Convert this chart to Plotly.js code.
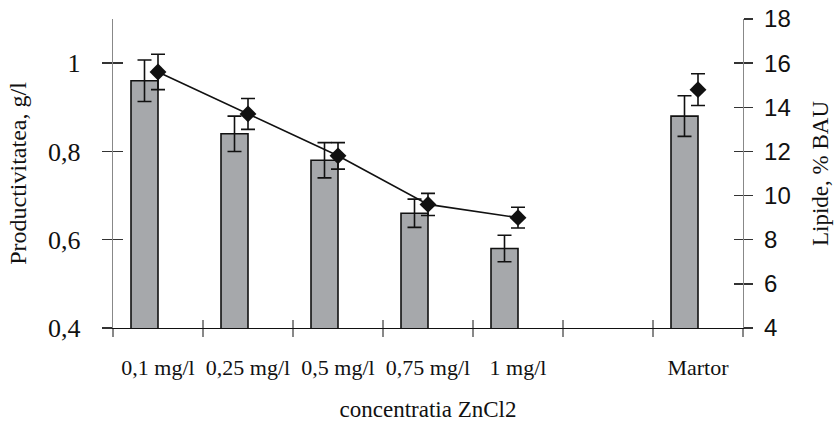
<!DOCTYPE html>
<html>
<head>
<meta charset="utf-8">
<script src="https://cdn.plot.ly/plotly-3.0.1.min.js"></script>
<style>html,body{margin:0;padding:0;background:#fff;}#chart{width:835px;height:424px;}</style>
</head>
<body>
<div id="chart"></div>
<script>
var categories = ['0,1 mg/l', '0,25 mg/l', '0,5 mg/l', '0,75 mg/l', '1 mg/l', ' ', 'Martor'];
var productivitate = [0.96, 0.84, 0.78, 0.66, 0.58, null, 0.88];
var productivitateErr = [0.047, 0.04, 0.04, 0.032, 0.03, null, 0.046];
var lipide = [15.6, 13.7, 11.8, 9.6, 9.0, null, 14.8];
var lipideErr = [0.8, 0.7, 0.6, 0.5, 0.47, null, 0.72];
var leftTicks = [0.4, 0.6, 0.8, 1];
var rightTicks = [4, 6, 8, 10, 12, 14, 16, 18];

var serif = 'Liberation Serif, Times New Roman, serif';
var sans = 'Liberation Sans, Arial, sans-serif';

var traces = [
  {
    type: 'bar', x: categories, y: productivitate, xaxis: 'x', yaxis: 'y',
    width: 0.3, offset: -0.3,
    marker: {color: '#a6a8ab', line: {color: '#111', width: 1.6}},
    error_y: {type: 'data', array: productivitateErr, visible: true, color: '#111', thickness: 1.6, width: 7},
    hoverinfo: 'skip'
  },
  {
    type: 'scatter', mode: 'lines+markers', x: categories, y: lipide, xaxis: 'x', yaxis: 'y2',
    connectgaps: false,
    line: {color: '#111', width: 1.6},
    marker: {symbol: 'diamond', size: 13, color: '#111'},
    error_y: {type: 'data', array: lipideErr, visible: true, color: '#111', thickness: 1.6, width: 7},
    hoverinfo: 'skip'
  },
  /* invisible helpers so the inside-tick overlay axes are drawn */
  {
    type: 'scatter', mode: 'markers', x: categories, y: productivitate, xaxis: 'x2', yaxis: 'y3',
    marker: {opacity: 0, size: 1}, hoverinfo: 'skip'
  },
  {
    type: 'scatter', mode: 'markers', x: categories, y: lipide, xaxis: 'x2', yaxis: 'y4',
    marker: {opacity: 0, size: 1}, hoverinfo: 'skip'
  }
];

var layout = {
  width: 835, height: 424,
  margin: {l: 113, r: 92, t: 19, b: 96},
  paper_bgcolor: '#fff', plot_bgcolor: 'rgba(0,0,0,0)',
  separators: ', ',
  showlegend: false,
  bargap: 0,
  xaxis: {
    type: 'category', categoryorder: 'array', categoryarray: categories,
    range: [-0.5, 6.5], fixedrange: true,
    showline: true, linecolor: '#111', linewidth: 1.3,
    showgrid: false, zeroline: false,
    tickson: 'boundaries', ticks: 'outside', ticklen: 8, tickcolor: '#888', tickwidth: 1.3,
    ticklabelstandoff: 19, tickangle: 0,
    tickfont: {family: serif, size: 22, color: '#111'},
    title: {text: 'concentratia ZnCl2', font: {family: serif, size: 23, color: '#111'}, standoff: 22}
  },
  xaxis2: {
    type: 'category', categoryorder: 'array', categoryarray: categories,
    range: [-0.5, 6.5], overlaying: 'x', anchor: 'y', side: 'bottom',
    showline: false, showgrid: false, zeroline: false, showticklabels: false,
    tickson: 'boundaries', ticks: 'inside', ticklen: 8, tickcolor: '#888', tickwidth: 1.3
  },
  yaxis: {
    range: [0.4, 1.1], tickvals: leftTicks,
    showline: true, linecolor: '#888', linewidth: 1.3,
    showgrid: false, zeroline: false,
    ticks: 'outside', ticklen: 10, tickcolor: '#333', tickwidth: 1.3,
    ticklabelstandoff: 16,
    tickfont: {family: serif, size: 26, color: '#111'},
    title: {text: 'Productivitatea, g/l', font: {family: serif, size: 24, color: '#111'}, standoff: 14}
  },
  yaxis3: {
    range: [0.4, 1.1], tickvals: leftTicks, overlaying: 'y', side: 'left', anchor: 'x',
    showline: false, showgrid: false, zeroline: false, showticklabels: false,
    ticks: 'inside', ticklen: 10, tickcolor: '#333', tickwidth: 1.3
  },
  yaxis2: {
    range: [4, 18], tickvals: rightTicks, overlaying: 'y', side: 'right', anchor: 'x',
    showline: true, linecolor: '#888', linewidth: 1.3,
    showgrid: false, zeroline: false,
    ticks: 'outside', ticklen: 9, tickcolor: '#333', tickwidth: 1.3,
    ticklabelstandoff: 6,
    tickfont: {family: sans, size: 24, color: '#111'},
    title: {text: 'Lipide, % BAU', font: {family: serif, size: 23, color: '#111'}, standoff: 22}
  },
  yaxis4: {
    range: [4, 18], tickvals: rightTicks, overlaying: 'y', side: 'right', anchor: 'x',
    showline: false, showgrid: false, zeroline: false, showticklabels: false,
    ticks: 'inside', ticklen: 9, tickcolor: '#333', tickwidth: 1.3
  }
};

Plotly.newPlot('chart', traces, layout, {staticPlot: true, displayModeBar: false});
</script>
</body>
</html>
